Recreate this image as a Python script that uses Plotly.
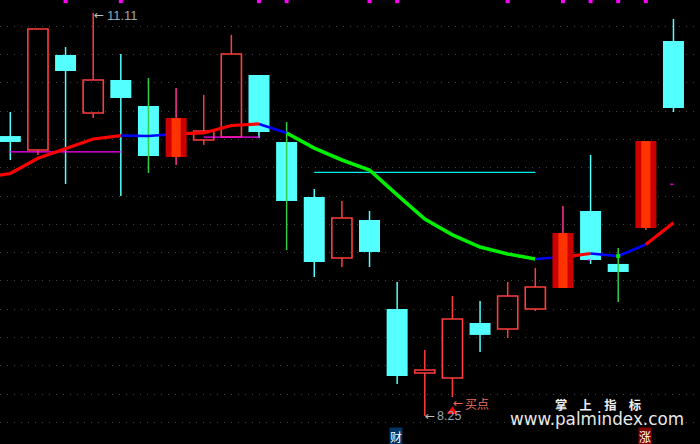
import plotly.graph_objects as go

# Each candle: high, body top, body bottom, low (price units)
highs = [10.408,10.997,10.869,11.111,10.820,10.649,10.578,10.529,10.955,10.671,10.337,9.861,9.776,9.705,9.201,8.718,9.101,9.066,9.201,9.300,9.740,10.103,9.442,10.202,11.068]
tops  = [10.237,10.997,10.813,10.635,10.635,10.450,10.365,10.273,10.820,10.671,10.195,9.804,9.655,9.641,9.009,8.576,8.938,8.910,9.101,9.165,9.549,9.705,9.329,10.202,10.912]
bots  = [10.195,10.138,10.699,10.401,10.507,10.095,10.088,10.209,10.230,10.266,9.776,9.343,9.371,9.414,8.533,8.555,8.519,8.825,8.867,9.009,9.158,9.357,9.272,9.584,10.436]
lows  = [10.067,10.103,9.897,10.365,9.811,9.975,10.032,10.174,10.230,10.223,9.428,9.236,9.307,9.307,8.477,8.249,8.384,8.704,8.803,8.995,9.158,9.329,9.059,9.570,10.408]
# kinds: d = falling (cyan), u = rising (hollow red), f = strong rising (filled red)
kinds = list("dududdfuudddudduuduufddfd")
# wicks drawn in a different colour
green_wicks = [5, 10, 22]

ma_x = [-0.373] + list(range(25))
ma_y = [9.960,9.971,10.079,10.145,10.216,10.240,10.237,10.252,10.259,10.312,10.323,10.259,10.152,10.067,9.996,9.819,9.648,9.535,9.449,9.400,9.364,9.378,9.403,9.385,9.467,9.622]
# MA colour runs: start position in ma_x, end position in ma_x, colour
ma_runs = [(0,5,"#ff0000"),(5,7,"#0000ff"),(7,10,"#ff0000"),(10,11,"#0000ff"),(11,20,"#00ee00"),(20,21,"#0000ff"),(21,22,"#ff0000"),(22,24,"#0000ff"),(24,25,"#ff0000")]
ma_widths = {"#ff0000":3.2,"#0000ff":2.6,"#00ee00":3.6}

top_marks = [2,4,9,10,13,14,18,20,21,22,23]
top_mark_price = 11.195
magenta_levels = [(-0.01,4,10.124),(7,9,10.230),(20.9,21,9.357),(23.88,24,9.895)]
cyan_level = (11,19,9.979)

grid_prices = [11.015,10.815,10.615,10.410,10.210,10.013,9.810,9.610,9.410,9.208,9.009,8.805,8.606,8.402,8.203]
low_label, high_label = "8.25", "11.11"
brand_cn = "<b>掌\u3000上\u3000指\u3000标</b>"
brand_url = "www.palmindex.com"

CYAN="#54ffff"; RED="#ff3c3c"; DARKRED="#cc0000"; ORANGE="#ff3300"; GREEN="#33cc44"; PINK="#ff3399"; MAG="#ff00ff"

fig = go.Figure()
idx = list(range(25))

# MA line (above cyan & hollow, below filled bodies)
for a,b,c in ma_runs:
    fig.add_trace(go.Scatter(x=ma_x[a:b+1], y=ma_y[a:b+1], mode="lines", zorder=5,
                             line=dict(color=c,width=ma_widths[c]), hoverinfo="skip"))
fig.add_trace(go.Scatter(x=[22], y=[ma_y[23]], mode="markers", zorder=6,
                         marker=dict(color="#00ee00",size=4,symbol="square")))

def wicks(ids, color, z, through=True):
    xs, ys = [], []
    for i in ids:
        if through:
            xs += [i,i,None]; ys += [lows[i],highs[i],None]
        else:
            xs += [i,i,None,i,i,None]; ys += [highs[i],tops[i],None,bots[i],lows[i],None]
    fig.add_trace(go.Scatter(x=xs,y=ys,mode="lines",line=dict(color=color,width=1.5),zorder=z,hoverinfo="skip"))

def bars(ids, fill, stroke, width, z):
    fig.add_trace(go.Bar(x=ids, base=[bots[i] for i in ids], y=[tops[i]-bots[i] for i in ids], width=width, zorder=z,
                         marker=dict(color=fill,line=dict(color=stroke,width=1.6 if stroke!=fill else 0)),hoverinfo="skip"))

D=[i for i in idx if kinds[i]=="d"]; U=[i for i in idx if kinds[i]=="u"]; F=[i for i in idx if kinds[i]=="f"]
wicks([i for i in D if i not in green_wicks], CYAN, 1)
wicks(U, RED, 1, through=False)
wicks(F, PINK, 1)
bars(U, "rgba(0,0,0,0)", RED, 0.73, 2)
bars(D, CYAN, CYAN, 0.76, 2)
wicks([i for i in D if i in green_wicks], GREEN, 3)
bars(F, DARKRED, DARKRED, 0.76, 7)
bars(F, ORANGE, ORANGE, 0.33, 8)

# horizontal level lines
xs,ys=[],[]
for a,b,p in magenta_levels:
    xs+=[a,b,None]; ys+=[p,p,None]
fig.add_trace(go.Scatter(x=xs,y=ys,mode="lines",line=dict(color=MAG,width=1.2),zorder=4,hoverinfo="skip"))
fig.add_trace(go.Scatter(x=list(cyan_level[:2]),y=[cyan_level[2]]*2,mode="lines",line=dict(color="#00eeee",width=1.2),zorder=4,hoverinfo="skip"))

# top marks
fig.add_trace(go.Scatter(x=top_marks,y=[top_mark_price]*len(top_marks),mode="markers",zorder=9,
                         marker=dict(color=MAG,size=4,symbol="square",line=dict(width=0)),hoverinfo="skip"))
# buy triangle
fig.add_trace(go.Scatter(x=[16],y=[8.282],mode="markers",zorder=9,
                         marker=dict(color="#ff0000",size=10,symbol="triangle-up",line=dict(width=0)),hoverinfo="skip"))

def note(x,y,t,color,size,fam="DejaVu Sans",bg=None):
    fig.add_annotation(x=x,y=y,xref="x",yref="y",text=t,showarrow=False,xanchor="left",yanchor="middle",
                       font=dict(color=color,size=size,family=fam),bgcolor=bg,borderpad=0)

note(2.98,11.100,"←","#c0c0c0",12)
note(3.48,11.096,high_label,"#9aa8b5",13,"Liberation Sans")
note(14.97,8.246,"←","#c0c0c0",12)
note(15.42,8.246,low_label,"#9aa8b5",12.5,"Liberation Sans")
note(15.97,8.340,"←","#ff6050",12)
note(16.43,8.340,"买点","#e87060",12,"Noto Sans CJK SC")
note(19.66,8.330,brand_cn,"#f0f0f0",12.3,"Noto Sans CJK SC")
note(18.03,8.226,brand_url,"#e8e8e8",16.8,"DejaVu Sans")
note(13.72,8.102,"财","#ffffff",12,"Noto Sans CJK SC","#003366")
note(22.73,8.102,"涨","#ffffff",12,"Noto Sans CJK SC","#800000")

fig.update_layout(width=700,height=444,margin=dict(l=0,r=0,t=0,b=0),paper_bgcolor="#000000",plot_bgcolor="#000000",
                  showlegend=False,barmode="overlay",
                  xaxis=dict(range=[-0.373,24.96],showgrid=False,zeroline=False,ticks="",showticklabels=False,
                             showline=True,linecolor="#555555",linewidth=1,fixedrange=True),
                  yaxis=dict(range=[8.0506,11.203],showline=False,zeroline=False,ticks="",showticklabels=False,
                             tickmode="array",tickvals=grid_prices,showgrid=True,gridcolor="#444444",griddash="1px,6px",gridwidth=1,fixedrange=True))
fig.write_html("out.html",config=dict(displayModeBar=False),
               post_script="document.body.style.margin='0';document.body.style.background='#000';document.body.style.overflow='hidden';")
